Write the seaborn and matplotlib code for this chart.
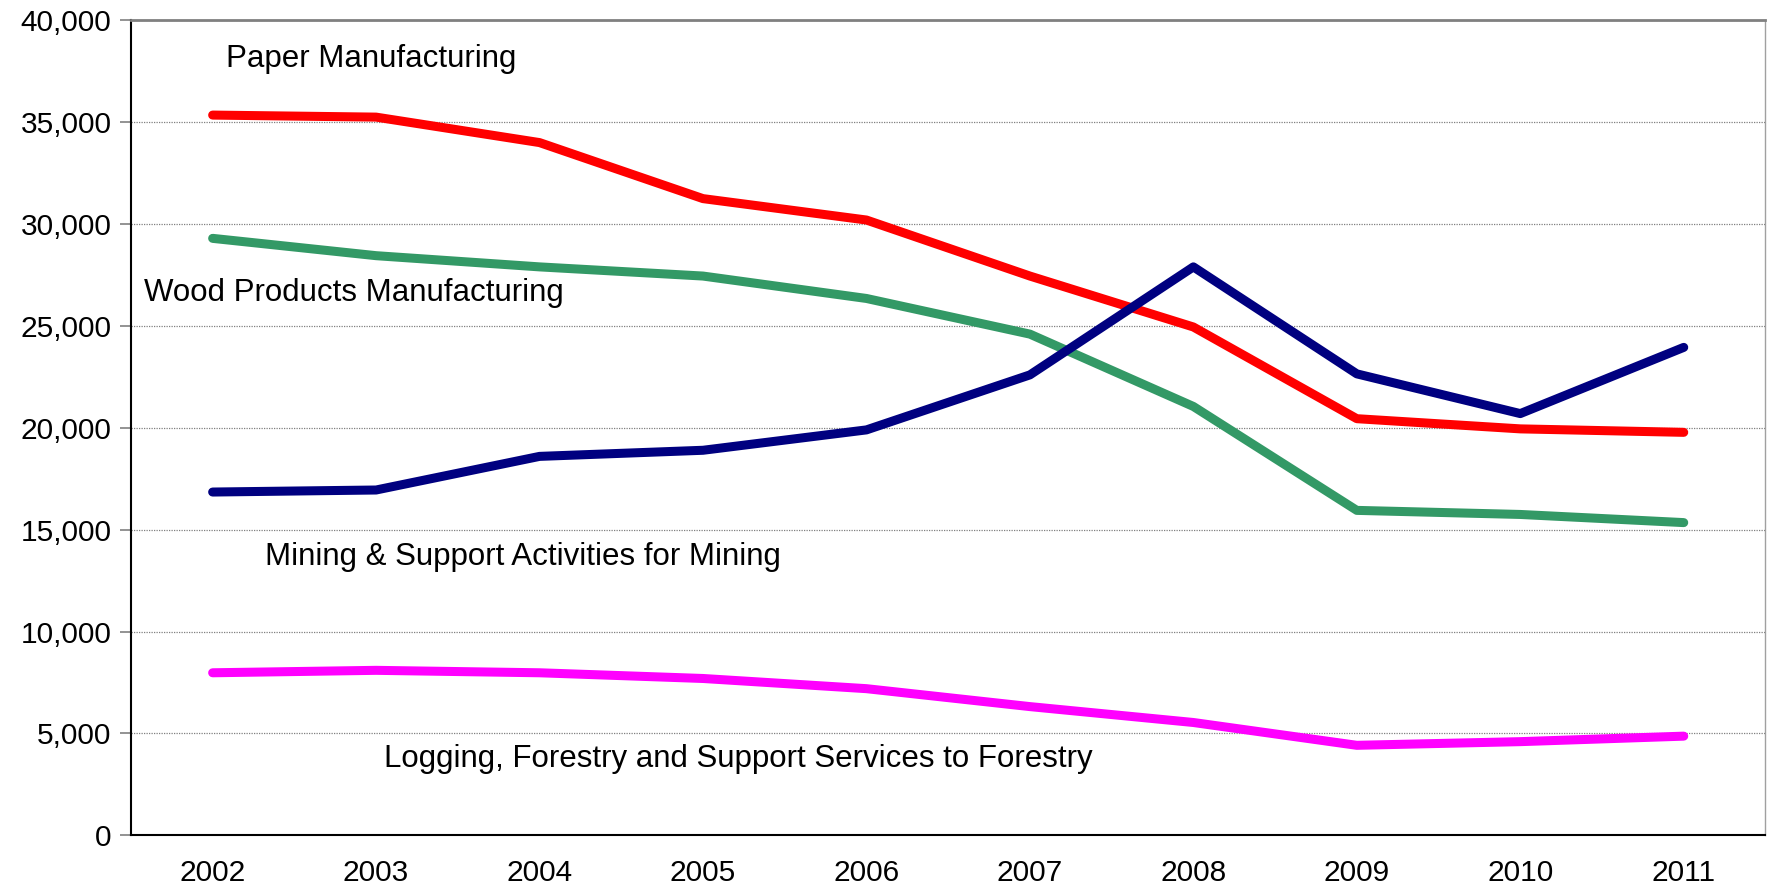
import numpy as np
import pandas as pd
import seaborn as sns
import matplotlib.pyplot as plt
from matplotlib.ticker import FuncFormatter, MultipleLocator

# Dados
anos = [2002, 2003, 2004, 2005, 2006, 2007, 2008, 2009, 2010, 2011]
paper = [35350, 35250, 34000, 31250, 30200, 27450, 24950, 20450, 19950, 19780]
wood = [29300, 28450, 27900, 27450, 26350, 24600, 21050, 15950, 15750, 15350]
mining = [16850, 16950, 18600, 18900, 19900, 22600, 27900, 22650, 20700, 23950]
logging = [7980, 8100, 7980, 7700, 7200, 6320, 5540, 4420, 4600, 4870]

series_names = ["Paper Manufacturing", "Wood Products Manufacturing",
                "Mining & Support Activities for Mining",
                "Logging, Forestry and Support Services to Forestry"]
cores = ["#FF0000", "#339966", "#000080", "#FF00FF"]

df = pd.DataFrame({"ano": anos * 4,
                   "valor": paper + wood + mining + logging,
                   "serie": np.repeat(series_names, len(anos))})

sns.set_style("white")
plt.rcParams["font.family"] = ["Liberation Sans", "DejaVu Sans"]
plt.rcParams["text.color"] = "black"
plt.rcParams["xtick.labelcolor"] = "black"
plt.rcParams["ytick.labelcolor"] = "black"

fig = plt.figure(figsize=(17.69, 8.84), dpi=100)
ax = fig.add_axes([0.074, 0.055, 0.924, 0.922])

sns.lineplot(data=df, x="ano", y="valor", hue="serie", palette=cores,
             linewidth=6.5, legend=False, ax=ax, solid_capstyle="round")

ax.set_xlim(2001.5, 2011.5)
ax.set_ylim(0, 40000)
ax.set_xticks(anos)
ax.set_xticklabels([str(a) for a in anos])
ax.set_xticks(np.arange(2001.5, 2012, 1), minor=True)
ax.tick_params(axis="x", which="major", length=0, labelsize=21.5, pad=17)
ax.tick_params(axis="x", which="minor", length=8, width=1.2, color="#808080",
               direction="out")
ax.yaxis.set_major_locator(MultipleLocator(5000))
ax.yaxis.set_major_formatter(FuncFormatter(lambda v, p: f"{int(v):,}"))
ax.tick_params(axis="y", length=8, width=1.2, color="#808080", direction="out",
               labelsize=21.5, left=True, pad=6)
ax.set_xlabel("")
ax.set_ylabel("")

ax.grid(axis="y", linestyle=(0, (1, 1)), color="#808080", linewidth=0.9)
ax.grid(axis="x", visible=False)

for lado in ["left", "bottom"]:
    ax.spines[lado].set_color("black")
    ax.spines[lado].set_linewidth(1.5)
ax.spines["top"].set_color("#808080")
ax.spines["top"].set_linewidth(2)
ax.spines["right"].set_color("#A0A0A0")
ax.spines["right"].set_linewidth(1)

# Rotulos das series
tam = 22.5
ax.text(0.058, 0.953, "Paper Manufacturing", transform=ax.transAxes,
        fontsize=tam, va="center")
ax.text(0.008, 0.665, "Wood Products Manufacturing", transform=ax.transAxes,
        fontsize=tam, va="center")
ax.text(0.082, 0.342, "Mining & Support Activities for Mining",
        transform=ax.transAxes, fontsize=tam, va="center")
ax.text(0.155, 0.094, "Logging, Forestry and Support Services to Forestry",
        transform=ax.transAxes, fontsize=tam, va="center")

plt.savefig("out.png", dpi=100)
